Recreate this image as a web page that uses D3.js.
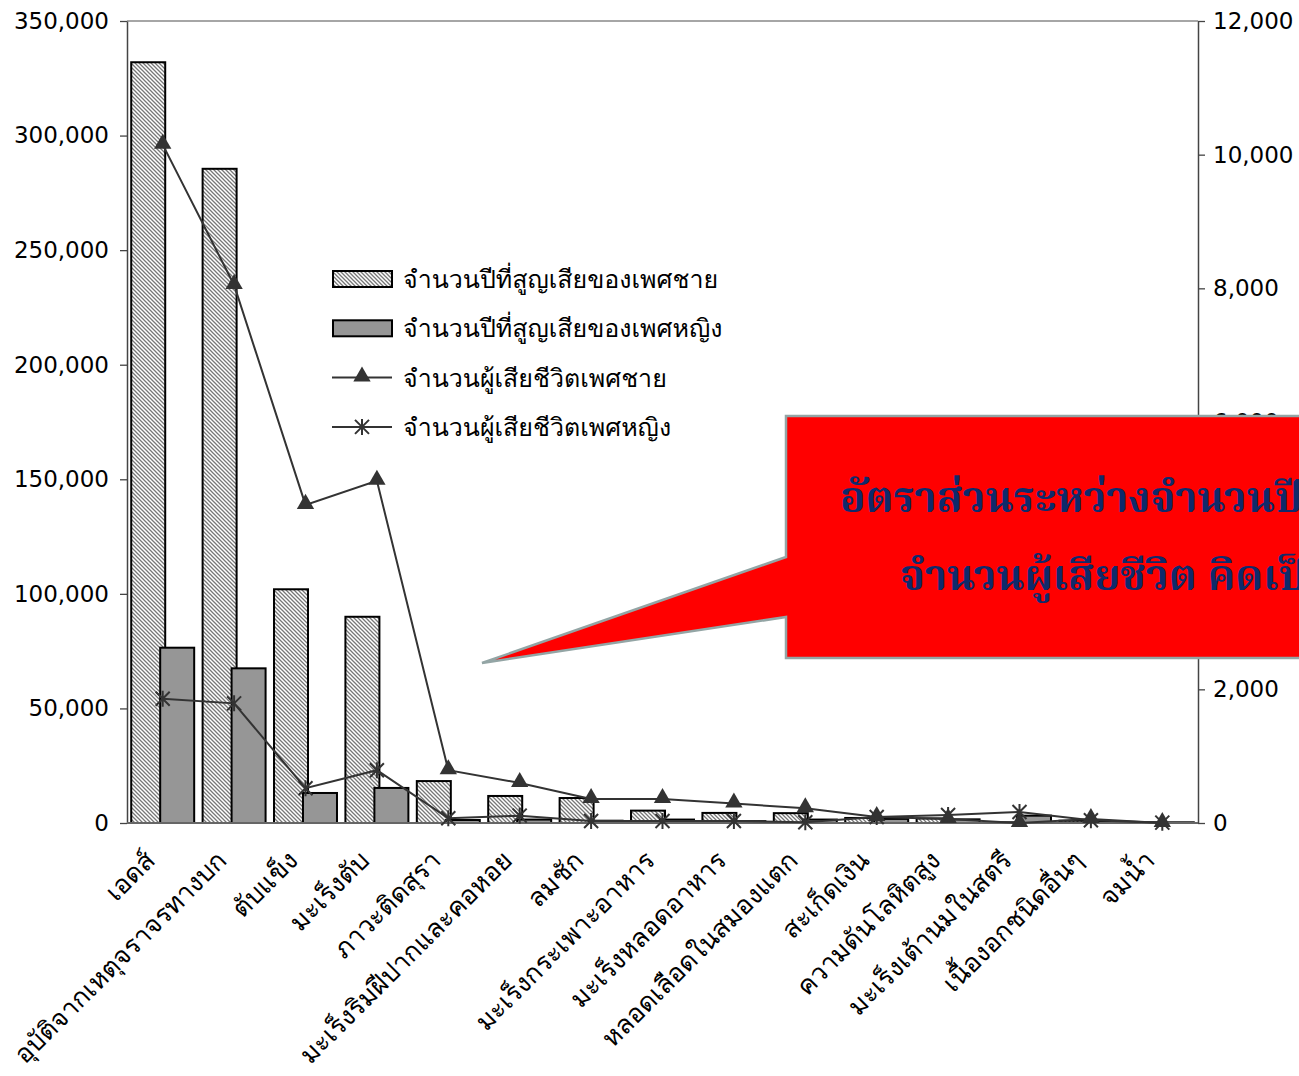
<!DOCTYPE html>
<meta charset="utf-8">
<script src="https://d3js.org/d3.v7.min.js"></script>
<style>
  body { margin: 0; background: #fff; }
</style>
<div id="chart"></div>
<script>

// categories (causes of death)
var causes = ["เอดส์", "อุบัติจากเหตุจราจรทางบก", "ตับแข็ง", "มะเร็งตับ", "ภาวะติดสุรา",
              "มะเร็งริมฝีปากและคอหอย", "ลมชัก", "มะเร็งกระเพาะอาหาร", "มะเร็งหลอดอาหาร",
              "หลอดเลือดในสมองแตก", "สะเก็ดเงิน", "ความดันโลหิตสูง", "มะเร็งเต้านมในสตรี",
              "เนื้องอกชนิดอื่นๆ", "จมน้ำ"];

// years of life lost (left axis)
var yllMale   = [332000, 285500, 102000, 90000, 18300, 11800, 10900, 5400, 4400, 4300, 2200, 2000, 300, 1000, 300];
var yllFemale = [76500, 67500, 13100, 15300, 1300, 1500, 1000, 1500, 800, 1500, 1800, 1600, 3200, 600, 300];

// number of deaths (right axis)
var deathMale   = [10150, 8050, 4760, 5120, 790, 600, 360, 360, 290, 220, 90, 60, 0, 60, 0];
var deathFemale = [1860, 1790, 520, 790, 70, 110, 30, 30, 30, 10, 90, 120, 165, 40, 5];

var leftTicks  = [0, 50000, 100000, 150000, 200000, 250000, 300000, 350000];
var rightTicks = [0, 2000, 4000, 6000, 8000, 10000, 12000];

var legendNames = ["จำนวนปีที่สูญเสียของเพศชาย", "จำนวนปีที่สูญเสียของเพศหญิง",
                   "จำนวนผู้เสียชีวิตเพศชาย", "จำนวนผู้เสียชีวิตเพศหญิง"];

var calloutLines = ["อัตราส่วนระหว่างจำนวนปีที่สูญเสีย", "จำนวนผู้เสียชีวิต คิดเป็น"];

var W = 1299, H = 1076;
var pLeft = 127, pRight = 1198, pTop = 21, pBottom = 823;
var thaiFont = "Loma, Garuda, 'Noto Sans Thai Looped', Tahoma, 'Noto Sans Thai', sans-serif";
var numFont = "Verdana, 'DejaVu Sans', sans-serif";

var svg = d3.select("#chart").append("svg")
    .attr("width", W)
    .attr("height", H);

// hatch for male bars
var defs = svg.append("defs");
var pat = defs.append("pattern")
    .attr("id", "hatch")
    .attr("patternUnits", "userSpaceOnUse")
    .attr("width", 4).attr("height", 4);
pat.append("rect").attr("width", 4).attr("height", 4).attr("fill", "#fff");
pat.append("path")
    .attr("d", "M-1,-1 L5,5 M-1,3 L1,5 M3,-1 L5,1")
    .attr("stroke", "#777").attr("stroke-width", 1.3);

var x = d3.scaleBand()
    .domain(causes)
    .range([pLeft, pRight])
    .paddingInner(0.118)
    .paddingOuter(0.059);

var yL = d3.scaleLinear().domain([0, 350000]).range([pBottom, pTop]);
var yR = d3.scaleLinear().domain([0, 12000]).range([pBottom, pTop]);

var barW = 34;
var cx = function(d){ return x(d) + x.bandwidth() / 2; };

// plot frame top
svg.append("line")
    .attr("x1", pLeft).attr("x2", pRight).attr("y1", pTop).attr("y2", pTop)
    .attr("stroke", "#888").attr("stroke-width", 1.5);

// left axis
svg.append("g")
    .attr("transform", "translate(" + pLeft + ",0)")
    .call(d3.axisLeft(yL).tickValues(leftTicks).tickSize(7).tickSizeOuter(0).tickFormat(d3.format(",")))
    .call(function(g){
      g.select(".domain").attr("stroke", "#444").attr("stroke-width", 1.5);
      g.selectAll(".tick line").attr("stroke", "#444").attr("stroke-width", 1.3);
      g.selectAll("text").attr("font-family", numFont).attr("font-size", 23)
        .attr("fill", "#000").attr("x", -18);
    });

// right axis
svg.append("g")
    .attr("transform", "translate(" + pRight + ",0)")
    .call(d3.axisRight(yR).tickValues(rightTicks).tickSize(7).tickSizeOuter(0).tickFormat(d3.format(",")))
    .call(function(g){
      g.select(".domain").attr("stroke", "#444").attr("stroke-width", 1.5);
      g.selectAll(".tick line").attr("stroke", "#444").attr("stroke-width", 1.3);
      g.selectAll("text").attr("font-family", numFont).attr("font-size", 23)
        .attr("fill", "#000").attr("x", 15);
    });

// male bars
svg.append("g").selectAll("rect")
  .data(causes)
  .join("rect")
    .attr("x", function(d){ return x(d); })
    .attr("y", function(d, i){ return yL(yllMale[i]); })
    .attr("width", barW)
    .attr("height", function(d, i){ return pBottom - yL(yllMale[i]); })
    .attr("fill", "url(#hatch)")
    .attr("stroke", "#000").attr("stroke-width", 2);

// female bars
svg.append("g").selectAll("rect")
  .data(causes)
  .join("rect")
    .attr("x", function(d){ return x(d) + x.bandwidth() - barW; })
    .attr("y", function(d, i){ return yL(yllFemale[i]); })
    .attr("width", barW)
    .attr("height", function(d, i){ return pBottom - yL(yllFemale[i]); })
    .attr("fill", "#969696")
    .attr("stroke", "#000").attr("stroke-width", 2);

// bottom axis line
svg.append("line")
    .attr("x1", pLeft).attr("x2", pRight).attr("y1", pBottom).attr("y2", pBottom)
    .attr("stroke", "#666").attr("stroke-width", 2);

// lines
var lineOf = function(vals){
  return d3.line()
    .x(function(d){ return cx(d); })
    .y(function(d, i){ return yR(vals[i]); })(causes);
};

svg.append("path").attr("d", lineOf(deathMale))
    .attr("fill", "none").attr("stroke", "#333").attr("stroke-width", 2);
svg.append("path").attr("d", lineOf(deathFemale))
    .attr("fill", "none").attr("stroke", "#333").attr("stroke-width", 2);

var tri = d3.symbol().type(d3.symbolTriangle).size(130);
svg.append("g").selectAll("path")
  .data(causes)
  .join("path")
    .attr("d", tri)
    .attr("transform", function(d, i){ return "translate(" + cx(d) + "," + (yR(deathMale[i]) - 1) + ")"; })
    .attr("fill", "#333");

var star = "M-7,-7L7,7M-7,7L7,-7M0,-8L0,8";
svg.append("g").selectAll("path")
  .data(causes)
  .join("path")
    .attr("d", star)
    .attr("transform", function(d, i){ return "translate(" + cx(d) + "," + yR(deathFemale[i]) + ")"; })
    .attr("stroke", "#333").attr("stroke-width", 2).attr("fill", "none");

// category labels
svg.append("g").selectAll("text")
  .data(causes)
  .join("text")
    .attr("transform", function(d){ return "translate(" + (cx(d) - 6) + ",862) rotate(-45)"; })
    .attr("text-anchor", "end")
    .attr("font-family", thaiFont)
    .attr("font-size", 26)
    .attr("fill", "#000")
    .text(function(d){ return d; });

// legend
var lg = svg.append("g").attr("transform", "translate(332,279)");
var rowH = 49.3;
lg.append("rect").attr("x", 1).attr("y", -8).attr("width", 59).attr("height", 16)
    .attr("fill", "url(#hatch)").attr("stroke", "#000").attr("stroke-width", 2);
lg.append("rect").attr("x", 1).attr("y", rowH - 8).attr("width", 59).attr("height", 16)
    .attr("fill", "#969696").attr("stroke", "#000").attr("stroke-width", 2);
lg.append("line").attr("x1", 0).attr("x2", 60).attr("y1", 2 * rowH).attr("y2", 2 * rowH)
    .attr("stroke", "#333").attr("stroke-width", 2);
lg.append("path").attr("d", tri).attr("transform", "translate(30," + (2 * rowH - 1) + ")").attr("fill", "#333");
lg.append("line").attr("x1", 0).attr("x2", 60).attr("y1", 3 * rowH).attr("y2", 3 * rowH)
    .attr("stroke", "#333").attr("stroke-width", 2);
lg.append("path").attr("d", star).attr("transform", "translate(30," + (3 * rowH) + ")")
    .attr("stroke", "#333").attr("stroke-width", 2);
lg.selectAll("text.lab")
  .data(legendNames)
  .join("text")
    .attr("class", "lab")
    .attr("x", 71)
    .attr("y", function(d, i){ return i * rowH + 9; })
    .attr("font-family", thaiFont)
    .attr("font-size", 25)
    .attr("fill", "#000")
    .text(function(d){ return d; });

// callout box
var co = svg.append("g");
co.append("path")
    .attr("d", "M786,416 L1320,416 L1320,658 L786,658 L786,617 L482,663 L786,557 Z")
    .attr("fill", "#ff0000")
    .attr("stroke", "#93a5a5")
    .attr("stroke-width", 2.5);
co.selectAll("text")
  .data(calloutLines)
  .join("text")
    .attr("x", function(d, i){ return i === 0 ? 840 : 900; })
    .attr("y", function(d, i){ return i === 0 ? 512 : 590; })
    .attr("font-family", "'Noto Serif Thai', 'Angsana New', serif")
    .attr("font-weight", "bold")
    .attr("font-size", 42)
    .attr("fill", "#0f2a6b")
    .text(function(d){ return d; });

</script>
